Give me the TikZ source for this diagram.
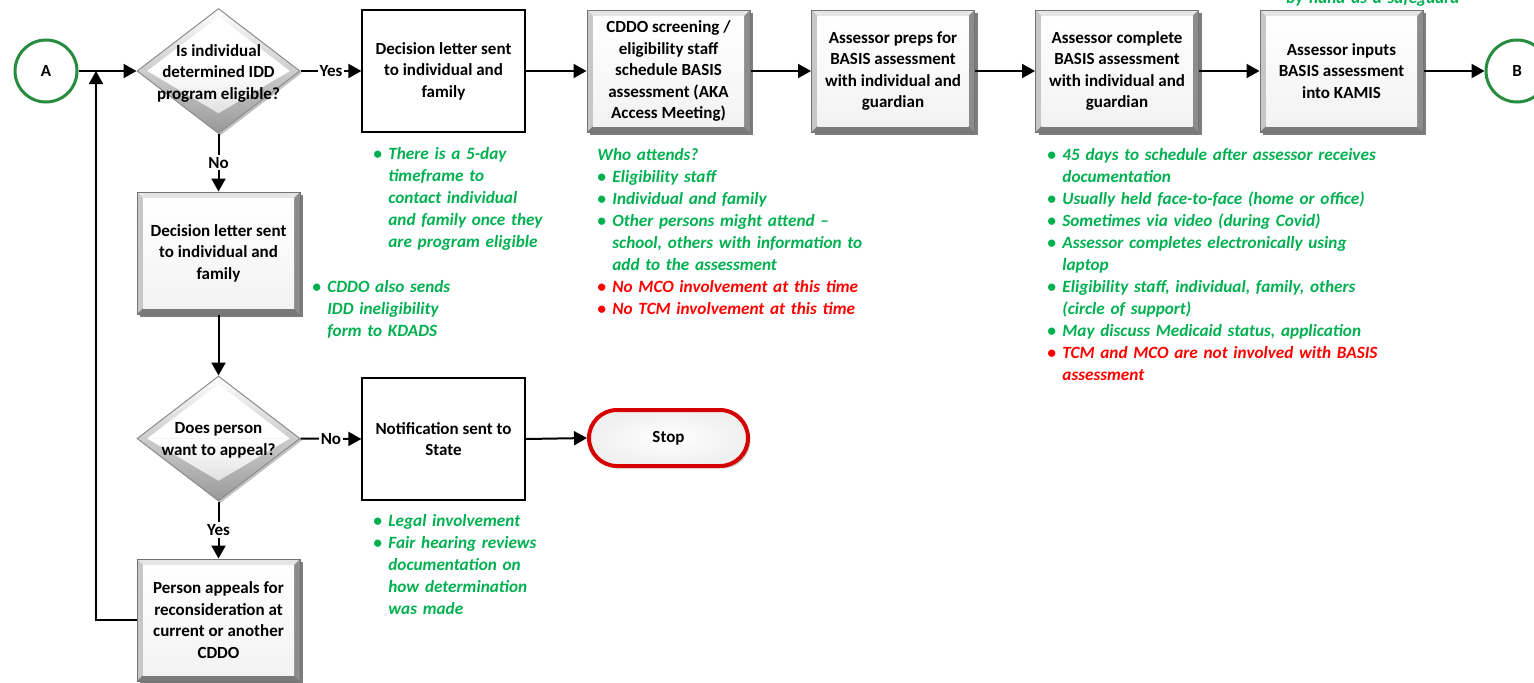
\documentclass[tikz,border=0pt]{standalone}
\usepackage{fontspec}
\setmainfont{Carlito}
\usetikzlibrary{arrows.meta,shapes.geometric,shadows}

\definecolor{notegreen}{RGB}{0,176,80}
\definecolor{notered}{RGB}{255,0,0}
\definecolor{ringgreen}{RGB}{38,140,62}
\definecolor{stopred}{RGB}{214,0,0}

% fonts for step boxes and for the green side notes
\newcommand\boxfont{\fontsize{8.5}{10.75}\selectfont\bfseries}
\newcommand\notefont{\fontsize{8.6}{11}\selectfont\bfseries\itshape}
% bullet and hanging indent used in the notes
\newcommand\bul{\makebox[7.5pt][l]{\textbullet}}
\newcommand\ind{\hspace*{7.5pt}}

% bevelled face of the shaded step boxes
\newcommand\ppbb{path picture bounding box}
\newcommand\bevelface{%
  \fill[black!10] (\ppbb.north west) -- (\ppbb.north east)
    -- ([shift={(-3pt,-3pt)}]\ppbb.north east) -- ([shift={(3pt,-3pt)}]\ppbb.north west) -- cycle;
  \fill[black!22] (\ppbb.north west) -- ([shift={(3pt,-3pt)}]\ppbb.north west)
    -- ([shift={(3pt,3pt)}]\ppbb.south west) -- (\ppbb.south west) -- cycle;
  \fill[black!45] (\ppbb.north east) -- ([shift={(-3pt,-3pt)}]\ppbb.north east)
    -- ([shift={(-3pt,3pt)}]\ppbb.south east) -- (\ppbb.south east) -- cycle;
  \fill[black!52] (\ppbb.south west) -- ([shift={(3pt,3pt)}]\ppbb.south west)
    -- ([shift={(-3pt,3pt)}]\ppbb.south east) -- (\ppbb.south east) -- cycle;
  \shade[top color=white, bottom color=black!5]
    ([shift={(3pt,-3pt)}]\ppbb.north west) rectangle ([shift={(-3pt,3pt)}]\ppbb.south east);
}
% bevelled face of the decision diamonds
\newcommand\diamondface{%
  \shade[top color=white, bottom color=black!40]
    (\ppbb.west) -- (\ppbb.north) -- (\ppbb.east) -- (\ppbb.south) -- cycle;
  \fill[white] ([xshift=5pt]\ppbb.west) -- ([yshift=-4pt]\ppbb.north)
    -- ([xshift=-5pt]\ppbb.east) -- (\ppbb.center) -- cycle;
  \shade[top color=white, bottom color=black!12]
    ([xshift=5pt]\ppbb.west) -- (\ppbb.center) -- ([xshift=-5pt]\ppbb.east)
    -- ([yshift=10pt]\ppbb.south) -- cycle;
}

\begin{document}
\begin{tikzpicture}[x=0.5pt,y=-0.5pt,
  bevelbox/.style={rectangle, minimum width=81.5pt, minimum height=61pt, inner sep=0pt,
    align=center, font=\boxfont, draw=black!55, line width=0.5pt, fill=white,
    drop shadow={shadow xshift=1.5pt, shadow yshift=-1.5pt, fill=black!60, opacity=0.85},
    path picture={\bevelface}},
  plainbox/.style={rectangle, minimum width=81.5pt, minimum height=61pt, inner sep=0pt,
    align=center, font=\boxfont, draw=black, line width=0.6pt, fill=white},
  decision/.style={diamond, minimum width=81.5pt, minimum height=62.5pt, inner sep=0pt,
    draw=black!45, line width=0.5pt, fill=white,
    drop shadow={shadow xshift=1pt, shadow yshift=-1pt, fill=black!40, opacity=0.6},
    path picture={\diamondface}},
  dtext/.style={align=center, font=\boxfont, inner sep=0pt},
  stopbox/.style={rectangle, rounded corners=14pt, minimum width=79.5pt, minimum height=28pt,
    draw=stopred, line width=2pt, inner color=white, outer color=black!6, font=\boxfont,
    drop shadow={shadow xshift=1.2pt, shadow yshift=-1.2pt, fill=black!40, opacity=0.6}},
  conn/.style={circle, minimum size=31pt, inner sep=0pt, draw=ringgreen, line width=1.5pt,
    fill=white, font=\boxfont},
  arr/.style={draw=black, line width=1pt, -{Triangle[length=6.5pt,width=7pt]}},
  lbl/.style={fill=white, inner sep=1pt, font=\boxfont},
  note/.style={text width=220pt, align=left, inner sep=0pt, font=\notefont,
    text=notegreen, anchor=base west}]

\useasboundingbox (0,0) rectangle (1534,682);

% top row
\node[conn] (A) at (46,71) {A};
\node[decision] (d1) at (218.5,71) {};
\node[dtext] at ([yshift=-1pt]d1.center) {Is individual\\determined IDD\\program eligible?};
\node[plainbox] (b1) at (443.5,71) {Decision letter sent\\to individual and\\family};
\node[bevelbox] (b2) at (668.5,71) {CDDO screening /\\eligibility staff\\schedule BASIS\\assessment (AKA\\Access Meeting)};
\node[bevelbox] (b3) at (893,71) {Assessor preps for\\BASIS assessment\\with individual and\\guardian};
\node[bevelbox] (b4) at (1117,71) {Assessor complete\\BASIS assessment\\with individual and\\guardian};
\node[bevelbox] (b5) at (1341.5,71) {Assessor inputs\\BASIS assessment\\into KAMIS};
\node[conn] (B) at (1517,71) {B};

% left column and appeal branch
\node[bevelbox] (b6) at (218.5,253) {Decision letter sent\\to individual and\\family};
\node[decision] (d2) at (218.5,438.5) {};
\node[dtext] at ([yshift=-1pt]d2.center) {Does person\\want to appeal?};
\node[plainbox] (b7) at (443.5,439) {Notification sent to\\State};
\node[stopbox] (stop) at (668.5,438) {Stop};
\node[bevelbox] (b8) at (218.5,620) {Person appeals for\\reconsideration at\\current or another\\CDDO};
\coordinate (j) at (96,71);

% connectors
\draw[arr] (A.east) -- (d1.west);
\draw[arr] (d1.east) -- node[lbl]{Yes} (b1.west);
\draw[arr] (b1.east) -- (b2.west);
\draw[arr] (b2.east) -- (b3.west);
\draw[arr] (b3.east) -- (b4.west);
\draw[arr] (b4.east) -- (b5.west);
\draw[arr] (b5.east) -- (B.west);
\draw[arr] (d1.south) -- node[lbl]{No} (b6.north);
\draw[arr] (b6.south) -- (d2.north);
\draw[arr] (d2.east) -- node[lbl]{No} (b7.west);
\draw[arr] (b7.east) -- (stop.west);
\draw[arr] (d2.south) -- node[lbl]{Yes} (b8.north);
\draw[arr] (b8.west) -| (j);

% side notes
\node[note] (n0) at (1286,3) {by hand as a safeguard};
\node[note] (n1) at (373,159) {\bul There is a 5-day\\
  \ind timeframe to\\
  \ind contact individual\\
  \ind and family once they\\
  \ind are program eligible};
\node[note] (n2) at (597,160) {Who attends?\\
  \bul Eligibility staff\\
  \bul Individual and family\\
  \bul Other persons might attend –\\
  \ind school, others with information to\\
  \ind add to the assessment\\
  {\color{notered}\bul No MCO involvement at this time}\\
  {\color{notered}\bul No TCM involvement at this time}};
\node[note] (n3) at (1047,160) {\bul 45 days to schedule after assessor receives\\
  \ind documentation\\
  \bul Usually held face-to-face (home or office)\\
  \bul Sometimes via video (during Covid)\\
  \bul Assessor completes electronically using\\
  \ind laptop\\
  \bul Eligibility staff, individual, family, others\\
  \ind (circle of support)\\
  \bul May discuss Medicaid status, application\\
  {\color{notered}\bul TCM and MCO are not involved with BASIS}\\
  {\color{notered}\ind assessment}};
\node[note] (n4) at (312,292) {\bul CDDO also sends\\
  \ind IDD ineligibility\\
  \ind form to KDADS};
\node[note] (n5) at (373,526) {\bul Legal involvement\\
  \bul Fair hearing reviews\\
  \ind documentation on\\
  \ind how determination\\
  \ind was made};

\end{tikzpicture}
\end{document}
